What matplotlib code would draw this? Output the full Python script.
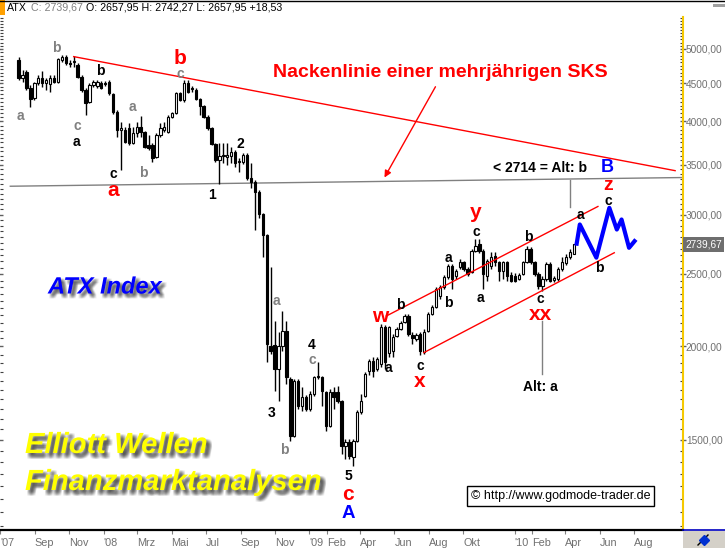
import numpy as np
import pandas as pd
import matplotlib
matplotlib.use('Agg')
import matplotlib.pyplot as plt
import matplotlib.patheffects as pe
import matplotlib.transforms as mtransforms
from matplotlib.ticker import FixedLocator, FuncFormatter, NullFormatter
from matplotlib.patches import Rectangle
from matplotlib.lines import Line2D

plt.rcParams['font.family'] = ['Liberation Sans', 'DejaVu Sans']

# ---------------- data (weekly ATX candles) ----------------
opens = [4835, 4575, 4661, 4437, 4302, 4506, 4575, 4506, 4492, 4575,
         4519, 4835, 4879, 4790, 4805, 4761, 4590, 4409, 4250, 4478,
         4464, 4506, 4506, 4519, 4356, 4122, 3900, 3900, 3924, 3747,
         3864, 3936, 3876, 3724, 3724, 3589, 3840, 3900, 3876, 4059,
         4109, 4369, 4276, 4506, 4437, 4409, 4289, 4198, 4059, 3924,
         3735, 3556, 3600, 3589, 3600, 3645, 3534, 3534, 3611, 3365,
         3324, 3223, 3003, 2815, 2001, 2007, 1864, 2001, 2095, 1807,
         1517, 1796, 1664, 1710, 1648, 1726, 1818, 1818, 1737, 1565,
         1737, 1737, 1690, 1471, 1489, 1422, 1494, 1633, 1716, 1852,
         1910, 1864, 1893, 2121, 1958, 1970, 2063, 2108, 2154, 2194,
         2070, 2044, 2076, 1964, 2095, 2208, 2256, 2334, 2399, 2474,
         2559, 2482, 2551, 2591, 2535, 2512, 2680, 2738, 2680, 2482,
         2559, 2639, 2591, 2520, 2591, 2490, 2482, 2459, 2497, 2591,
         2696, 2591, 2497, 2406, 2459, 2575, 2451, 2459, 2535, 2583,
         2631, 2657.95]
highs = [4879, 4689, 4689, 4478, 4519, 4618, 4675, 4575, 4618, 4618,
         4865, 4909, 4909, 4835, 4894, 4790, 4618, 4437, 4506, 4547,
         4547, 4533, 4533, 4547, 4369, 4147, 3997, 3936, 3985, 3936,
         3997, 4071, 3888, 3840, 3747, 3864, 3985, 3997, 4084, 4122,
         4382, 4382, 4547, 4547, 4464, 4437, 4302, 4211, 4084, 3936,
         3747, 3747, 3747, 3747, 3701, 3667, 3578, 3633, 3633, 3523,
         3344, 3243, 3021, 2824, 2551, 2161, 2089, 2228, 2161, 1818,
         1807, 1807, 1764, 1721, 1742, 1824, 1905, 1824, 1742, 1753,
         1764, 1769, 1695, 1503, 1503, 1503, 1643, 1726, 1846, 1922,
         1934, 1934, 2141, 2134, 2128, 2076, 2121, 2161, 2208, 2208,
         2089, 2083, 2089, 2108, 2221, 2270, 2399, 2414, 2490, 2575,
         2575, 2535, 2615, 2599, 2551, 2696, 2781, 2781, 2696, 2615,
         2672, 2672, 2599, 2599, 2599, 2512, 2505, 2505, 2599, 2721,
         2713, 2599, 2512, 2482, 2591, 2591, 2482, 2551, 2631, 2655,
         2696, 2742.27]
lows = [4547, 4519, 4409, 4185, 4276, 4478, 4451, 4409, 4382, 4506,
        4506, 4805, 4761, 4732, 4732, 4575, 4382, 4084, 4237, 4451,
        4437, 4423, 4464, 4342, 4097, 3816, 3448, 3747, 3724, 3735,
        3816, 3816, 3690, 3667, 3534, 3578, 3816, 3876, 3864, 4046,
        4097, 4263, 4250, 4369, 4382, 4276, 4084, 4046, 3900, 3724,
        3534, 3303, 3523, 3502, 3523, 3481, 3427, 3513, 3344, 3263,
        2867, 2975, 2631, 1905, 1952, 1742, 1690, 1970, 1780, 1494,
        1512, 1648, 1638, 1638, 1638, 1716, 1807, 1664, 1541, 1560,
        1648, 1679, 1435, 1413, 1413, 1383, 1489, 1623, 1710, 1829,
        1818, 1852, 1875, 1864, 1934, 1934, 2057, 2102, 2148, 2063,
        2013, 2032, 1946, 1952, 2089, 2201, 2249, 2312, 2384, 2459,
        2384, 2459, 2535, 2520, 2482, 2505, 2672, 2663, 2384, 2444,
        2535, 2559, 2444, 2459, 2444, 2436, 2436, 2451, 2490, 2583,
        2575, 2482, 2384, 2369, 2444, 2436, 2436, 2444, 2520, 2567,
        2615, 2657.95]
closes = [4575, 4618, 4437, 4289, 4506, 4575, 4506, 4547, 4575, 4519,
          4850, 4879, 4790, 4776, 4820, 4590, 4409, 4237, 4478, 4519,
          4519, 4437, 4492, 4369, 4122, 3900, 3924, 3758, 3747, 3864,
          3936, 3876, 3701, 3690, 3578, 3840, 3924, 3936, 4059, 4109,
          4369, 4276, 4506, 4382, 4423, 4289, 4198, 4059, 3924, 3735,
          3556, 3600, 3611, 3611, 3645, 3523, 3545, 3611, 3365, 3324,
          3223, 3003, 2815, 2013, 1970, 1864, 2001, 2095, 1818, 1517,
          1796, 1664, 1710, 1648, 1726, 1818, 1824, 1742, 1565, 1737,
          1710, 1690, 1471, 1489, 1426, 1494, 1633, 1690, 1835, 1910,
          1852, 1922, 2121, 1905, 2121, 2057, 2108, 2148, 2194, 2076,
          2050, 2070, 1970, 2089, 2208, 2256, 2384, 2399, 2474, 2559,
          2459, 2520, 2591, 2535, 2497, 2680, 2721, 2680, 2497, 2599,
          2631, 2591, 2520, 2591, 2482, 2444, 2444, 2490, 2591, 2696,
          2591, 2497, 2406, 2459, 2575, 2444, 2467, 2535, 2591, 2631,
          2672, 2739.67]
last_date = '2010-04-16'

# x-axis month labels
month_dates = ['2007-07-01', '2007-09-01', '2007-11-01', '2008-01-01', '2008-03-01',
               '2008-05-01', '2008-07-01', '2008-09-01', '2008-11-01', '2009-01-01',
               '2009-02-01', '2009-04-01', '2009-06-01', '2009-08-01', '2009-10-01',
               '2010-01-01', '2010-02-01', '2010-04-01', '2010-06-01', '2010-08-01']
month_labels = ["'07", 'Sep', 'Nov', "'08", 'Mrz', 'Mai', 'Jul', 'Sep', 'Nov', "'09",
                'Feb', 'Apr', 'Jun', 'Aug', 'Okt', "'10", 'Feb', 'Apr', 'Jun', 'Aug']
y_major = [1500, 2000, 2500, 3000, 3500, 4000, 4500, 5000]

# trend lines (x = week index, y = index points)
neck_x, neck_y = [14.0, 166.7], [4884, 3437]
support_x, support_y = [-2.1, 168.7], [3276, 3365]
chan_up_x, chan_up_y = [93.35, 147.1], [2196, 3078]
chan_lo_x, chan_lo_y = [102.9, 151.25], [1962, 2669]
proj_x = [141.7, 142.5, 146.7, 150.0, 151.9, 153.1, 155.0, 156.4]
proj_y = [2745, 2912, 2629, 3065, 2867, 2957, 2710, 2766]
arrow_x, arrow_y = [105.85, 92.9], [4451, 3365]
vline1_x, vline1_y = 140.0, [3344, 3074]
vline2_x, vline2_y = 133.0, [2163, 1835]

# ---------------- figure ----------------
W, H = 725, 548
fig = plt.figure(figsize=(W / 100, H / 100), dpi=100)
fig.patch.set_facecolor('white')
PX_L, PX_R, PX_T, PX_B = 0, 683, 17, 530
ax = fig.add_axes([PX_L / W, 1 - PX_B / H, (PX_R - PX_L) / W, (PX_B - PX_T) / H])
ax.set_facecolor('white')

n = len(opens)
idx = np.arange(n)
dates = pd.date_range(end=last_date, periods=n, freq='7D')
o = np.array(opens, float); c = np.array(closes, float)
h = np.array(highs, float); l = np.array(lows, float)
up = c >= o
bottom = np.minimum(o, c)
height = np.maximum(np.abs(c - o), 1.0)

ax.vlines(idx, l, h, color='black', lw=1.0, zorder=2)
ax.bar(idx[up], height[up], bottom=bottom[up], width=0.6, facecolor='white',
       edgecolor='black', lw=0.8, zorder=3)
ax.bar(idx[~up], height[~up], bottom=bottom[~up], width=0.6, facecolor='black',
       edgecolor='black', lw=0.8, zorder=3)

ax.set_yscale('log')
ax.set_ylim(1136, 5518)
ax.set_xlim(-2.075, 168.7)

# lines
ax.plot(support_x, support_y, color='#808080', lw=1.0, zorder=1)
ax.plot(neck_x, neck_y, color='red', lw=1.0, zorder=4)
ax.plot(chan_up_x, chan_up_y, color='red', lw=1.0, zorder=4)
ax.plot(chan_lo_x, chan_lo_y, color='red', lw=1.0, zorder=4)
ax.plot([vline1_x, vline1_x], vline1_y, color='#808080', lw=1.0, zorder=1)
ax.plot([vline2_x, vline2_x], vline2_y, color='#808080', lw=1.0, zorder=1)
ax.plot(proj_x, proj_y, color='#0000FF', lw=3.0, zorder=5, solid_joinstyle='round')
ax.annotate('', xy=(arrow_x[1], arrow_y[1]), xytext=(arrow_x[0], arrow_y[0]),
            arrowprops=dict(arrowstyle='-|>', color='red', lw=1.0, mutation_scale=10,
                            shrinkA=0, shrinkB=0), zorder=4)

# axes styling
for s in ['top', 'left']:
    ax.spines[s].set_visible(False)
ax.spines['right'].set_color('#F5C800')
ax.spines['right'].set_linewidth(1.5)
ax.spines['bottom'].set_color('black')
ax.spines['bottom'].set_linewidth(1.6)

ax.yaxis.set_major_locator(FixedLocator(y_major))
ax.yaxis.set_major_formatter(FuncFormatter(lambda v, p: f"{v:.2f}".replace('.', ',')))
ax.yaxis.set_minor_locator(FixedLocator([v for v in range(1150, 5550, 50) if v not in y_major]))
ax.yaxis.set_minor_formatter(NullFormatter())
ax.tick_params(axis='y', which='both', left=True, right=True, labelleft=False, labelright=True)
ax.tick_params(axis='y', which='major', direction='inout', length=4, width=1, color='#606060',
               labelsize=7.3, labelcolor='#707070', pad=0)
ax.tick_params(axis='y', which='minor', direction='in', length=2.5, width=0.8, color='#404040')

t0 = dates[0]
xt = [(pd.Timestamp(m) - t0).days / 7.0 for m in month_dates]
ax.set_xticks(xt)
ax.set_xticklabels(month_labels)
ax.tick_params(axis='x', direction='out', length=3, width=0.8, color='#808080',
               labelsize=7.8, labelcolor='#707070', pad=3)
for lb in ax.get_xticklabels():
    lb.set_ha('left')

# last value box
trans = mtransforms.blended_transform_factory(ax.transAxes, ax.transData)
ax.text(1.003, closes[-1], f"{closes[-1]:.2f}".replace('.', ','), transform=trans,
        ha='left', va='center', fontsize=7.3, color='white', clip_on=False,
        bbox=dict(boxstyle='square,pad=0.25', facecolor='#6E6E6E', edgecolor='none'), zorder=6)


def fx(px):
    return px / W


def fy(py):
    return 1 - py / H


def lab(txt, px, py, color='black', size=10, weight='bold', **kw):
    fig.text(fx(px), fy(py), txt, color=color, fontsize=size, fontweight=weight,
             ha=kw.pop('ha', 'center'), va=kw.pop('va', 'center'), **kw)


GRAY = '#808080'
# wave labels
lab('b', 56, 48, GRAY)
lab('a', 20, 116, GRAY)
lab('b', 100, 71)
lab('c', 77, 126, GRAY)
lab('a', 76, 142)
lab('c', 113, 174.5)
lab('a', 113, 191, 'red', 15)
lab('a', 132, 107, GRAY)
lab('b', 143, 173, GRAY)
lab('b', 180, 58.5, 'red', 15)
lab('c', 180, 74, GRAY)
lab('2', 240, 144)
lab('1', 212, 195)
lab('a', 276, 301, GRAY)
lab('4', 311.7, 345)
lab('c', 312.3, 359.5, GRAY)
lab('3', 272, 413)
lab('b', 284, 450, GRAY)
lab('5', 348, 476)
lab('c', 348, 494, 'red', 15)
lab('A', 348.3, 513, '#0000FF', 13.5)
lab('w', 380, 317, 'red', 15)
lab('b', 400, 305)
lab('a', 388.3, 368.3)
lab('c', 420, 365.5)
lab('x', 420, 381.5, 'red', 15)
lab('a', 448.3, 258)
lab('b', 448.3, 302.7)
lab('y', 476, 213, 'red', 15)
lab('c', 476.7, 231.7)
lab('a', 480, 298)
lab('b', 528.3, 237.3)
lab('c', 540, 299)
lab('xx', 540, 315, 'red', 15)
lab('Alt: a', 540, 387.3, size=10)
lab('a', 580, 215)
lab('b', 599.3, 268.3)
lab('c', 608, 201)
lab('z', 607.7, 185.5, 'red', 14)
lab('B', 607.7, 167, '#0000FF', 13)
lab('< 2714 = Alt: b', 540, 167.7, size=10)
lab('Nackenlinie einer mehrjährigen SKS', 440, 72, 'red', 14)


def shadow(off, color, spread, alpha):
    eff = []
    for dx in np.linspace(-spread, spread, 5):
        for dy in np.linspace(-spread, spread, 5):
            eff.append(pe.SimplePatchShadow(offset=(off[0] + dx, off[1] + dy),
                                            shadow_rgbFace=color, alpha=alpha))
    eff.append(pe.Normal())
    return eff


fig.text(fx(48), fy(287), 'ATX Index', color='#0000FF', fontsize=17, fontweight='bold',
         fontstyle='italic', ha='left', va='center',
         path_effects=shadow((2.2, -2.2), '#303030', 1.3, 0.05))
fig.text(fx(25), fy(445), 'Elliott Wellen', color='#FFFF00', fontsize=21, fontweight='bold',
         fontstyle='italic', ha='left', va='center',
         path_effects=shadow((2.6, -2.6), '#303030', 1.5, 0.06))
fig.text(fx(25), fy(482), 'Finanzmarktanalysen', color='#FFFF00', fontsize=21,
         fontweight='bold', fontstyle='italic', ha='left', va='center',
         path_effects=shadow((2.6, -2.6), '#303030', 1.5, 0.06))

# copyright box
fig.text(fx(560.5), fy(496), '\u00a9 http://www.godmode-trader.de', color='black', fontsize=9,
         ha='center', va='center',
         bbox=dict(boxstyle='square,pad=0.3', facecolor='white', edgecolor='black', lw=1))

# header
fig.patches.append(Rectangle((0, fy(15)), fx(5), 15 / H, transform=fig.transFigure,
                             facecolor='#FFA000', edgecolor='none'))
fig.text(fx(7), fy(8), 'ATX', color='black', fontsize=7.7, ha='left', va='center')
fig.text(fx(31), fy(8), 'C: 2739,67', color='#808080', fontsize=7.7, ha='left', va='center')
fig.text(fx(86), fy(8), 'O: 2657,95 H: 2742,27 L: 2657,95 +18,53', color='black',
         fontsize=7.7, ha='left', va='center')
fig.add_artist(Line2D([0, 1], [fy(0.5), fy(0.5)], color='black', lw=1, transform=fig.transFigure))
fig.patches.append(Rectangle((fx(713), fy(7)), fx(12), 3 / H, transform=fig.transFigure,
                             facecolor='#A0A0A0', edgecolor='none'))

# bottom-right corner box
fig.patches.append(Rectangle((fx(683), 0), fx(42), 17 / H, transform=fig.transFigure,
                             facecolor='#D4D0C8', edgecolor='none'))
fig.add_artist(Line2D([fx(683), 1], [fy(529.5), fy(529.5)], color='#0000C0', lw=1.2,
                      transform=fig.transFigure))
fig.add_artist(Line2D([fx(698), fx(708)], [fy(545), fy(535)], color='black', lw=1,
                      transform=fig.transFigure))
fig.add_artist(Line2D([fx(704)], [fy(540)], marker='D', color='#0030D0', markersize=5,
                      transform=fig.transFigure))

fig.savefig('out.png', dpi=100)
